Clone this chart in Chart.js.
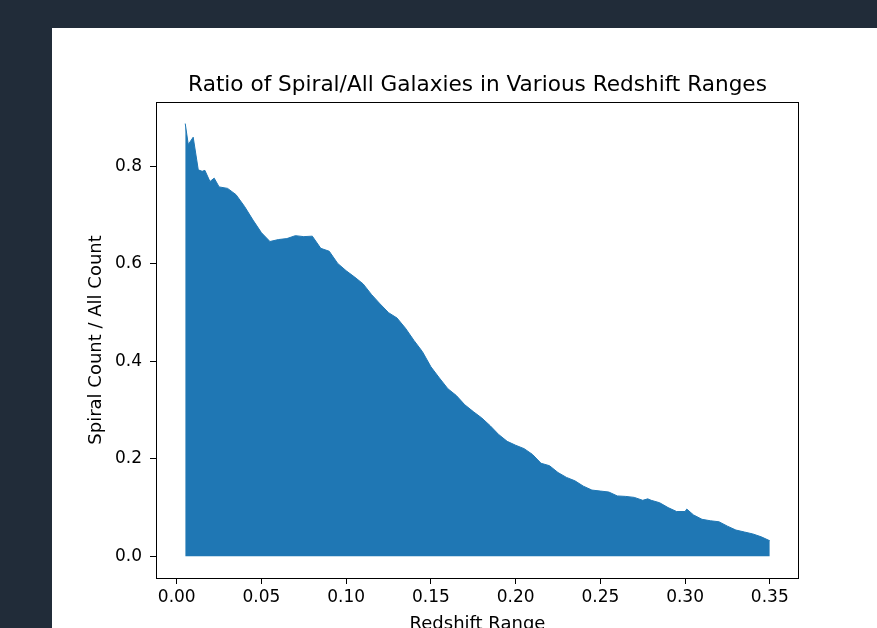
<!DOCTYPE html>
<html>
<head>
<meta charset="utf-8">
<script src="https://cdn.jsdelivr.net/npm/chart.js@4/dist/chart.umd.min.js"></script>
<style>
  html, body { margin: 0; padding: 0; background: #212c39; width: 877px; height: 628px; overflow: hidden; }
  #panel { position: absolute; left: 52px; top: 28px; width: 825px; height: 600px; background: #fff; overflow: hidden; }
</style>
</head>
<body>
<div id="panel"><canvas id="ratioChart" width="825" height="610"></canvas></div>
<script>
    // redshift bin positions and spiral / all ratio
    var redshift = [0.005, 0.0068, 0.0097, 0.0127, 0.015, 0.0166, 0.0196, 0.0221, 0.025, 0.030,
        0.035, 0.040, 0.045, 0.050, 0.055, 0.060, 0.065, 0.070, 0.075, 0.080,
        0.085, 0.090, 0.095, 0.100, 0.105, 0.110, 0.115, 0.120, 0.125, 0.130,
        0.135, 0.140, 0.145, 0.150, 0.155, 0.160, 0.165, 0.170, 0.175, 0.180,
        0.185, 0.190, 0.195, 0.200, 0.205, 0.210, 0.215, 0.220, 0.225, 0.230,
        0.235, 0.240, 0.245, 0.250, 0.255, 0.260, 0.265, 0.270, 0.275, 0.278,
        0.280, 0.285, 0.290, 0.295, 0.300, 0.301, 0.305, 0.310, 0.315, 0.320,
        0.325, 0.330, 0.335, 0.340, 0.345, 0.350];
    var ratio = [0.888, 0.845, 0.860, 0.793, 0.790, 0.792, 0.769, 0.776, 0.758, 0.755,
        0.742, 0.718, 0.690, 0.664, 0.646, 0.650, 0.652, 0.658, 0.656, 0.657,
        0.632, 0.626, 0.601, 0.586, 0.573, 0.559, 0.537, 0.518, 0.500, 0.489,
        0.468, 0.443, 0.420, 0.389, 0.366, 0.344, 0.330, 0.311, 0.297, 0.284,
        0.268, 0.250, 0.236, 0.228, 0.221, 0.209, 0.191, 0.186, 0.172, 0.162,
        0.155, 0.144, 0.136, 0.134, 0.132, 0.124, 0.123, 0.121, 0.115, 0.118,
        0.115, 0.110, 0.100, 0.092, 0.092, 0.097, 0.085, 0.076, 0.073, 0.071,
        0.062, 0.054, 0.050, 0.046, 0.040, 0.032];
    var xTicks = [0, 0.05, 0.10, 0.15, 0.20, 0.25, 0.30, 0.35];
    var yTicks = [0, 0.2, 0.4, 0.6, 0.8];

    var FONT = 'DejaVu Sans';

    // matplotlib-style box round the axes
    var frame = {
        id: 'frame',
        afterDraw: function (chart) {
            var a = chart.chartArea, c = chart.ctx;
            c.save();
            c.strokeStyle = '#000';
            c.lineWidth = 1;
            c.strokeRect(Math.round(a.left) + 0.5, Math.round(a.top) + 0.5,
                Math.round(a.right - a.left) - 1, Math.round(a.bottom - a.top));
            c.restore();
        }
    };

    var ctx = document.getElementById('ratioChart');
    var ratioChart = new Chart(ctx, {
        type: 'line',
        data: {
            datasets: [{
                data: redshift.map(function (x, i) { return {x: x, y: ratio[i]}; }),
                fill: 'origin',
                backgroundColor: '#1f77b4',
                borderColor: '#1f77b4',
                borderWidth: 1,
                pointRadius: 0,
                tension: 0
            }]
        },
        options: {
            responsive: false,
            animation: false,
            events: [],
            layout: { padding: { left: 0, right: 78, top: 0, bottom: 0 } },
            plugins: {
                legend: { display: false },
                tooltip: { enabled: false },
                title: {
                    display: true,
                    fullSize: false,
                    text: 'Ratio of Spiral/All Galaxies in Various Redshift Ranges',
                    color: '#000',
                    font: { family: FONT, size: 21.6, weight: 'normal' },
                    padding: { top: 44, bottom: 4 }
                }
            },
            scales: {
                x: {
                    type: 'linear',
                    min: -0.01225,
                    max: 0.36725,
                    afterBuildTicks: function (axis) {
                        axis.ticks = xTicks.map(function (v) { return {value: v}; });
                    },
                    afterFit: function (scale) { scale.height = 60; },
                    ticks: {
                        color: '#000',
                        font: { family: FONT, size: 17 },
                        padding: 3,
                        maxRotation: 0,
                        autoSkip: false,
                        callback: function (v) { return v.toFixed(2); }
                    },
                    grid: { display: true, drawOnChartArea: false, drawTicks: true, tickLength: 6, color: '#000' },
                    border: { display: false },
                    title: {
                        display: true,
                        text: 'Redshift Range',
                        color: '#000',
                        font: { family: FONT, size: 18 },
                        padding: { top: 0, bottom: 3 }
                    }
                },
                y: {
                    type: 'linear',
                    min: -0.0444,
                    max: 0.9324,
                    afterBuildTicks: function (axis) {
                        axis.ticks = yTicks.map(function (v) { return {value: v}; });
                    },
                    afterFit: function (scale) { scale.width = 104; },
                    ticks: {
                        color: '#000',
                        font: { family: FONT, size: 17 },
                        padding: 8,
                        autoSkip: false,
                        callback: function (v) { return v.toFixed(1); }
                    },
                    grid: { display: true, drawOnChartArea: false, drawTicks: true, tickLength: 6, color: '#000' },
                    border: { display: false },
                    title: {
                        display: true,
                        text: 'Spiral Count / All Count',
                        color: '#000',
                        font: { family: FONT, size: 18 },
                        padding: { top: 34, bottom: 0 }
                    }
                }
            }
        },
        plugins: [frame]
    });
</script>
</body>
</html>
